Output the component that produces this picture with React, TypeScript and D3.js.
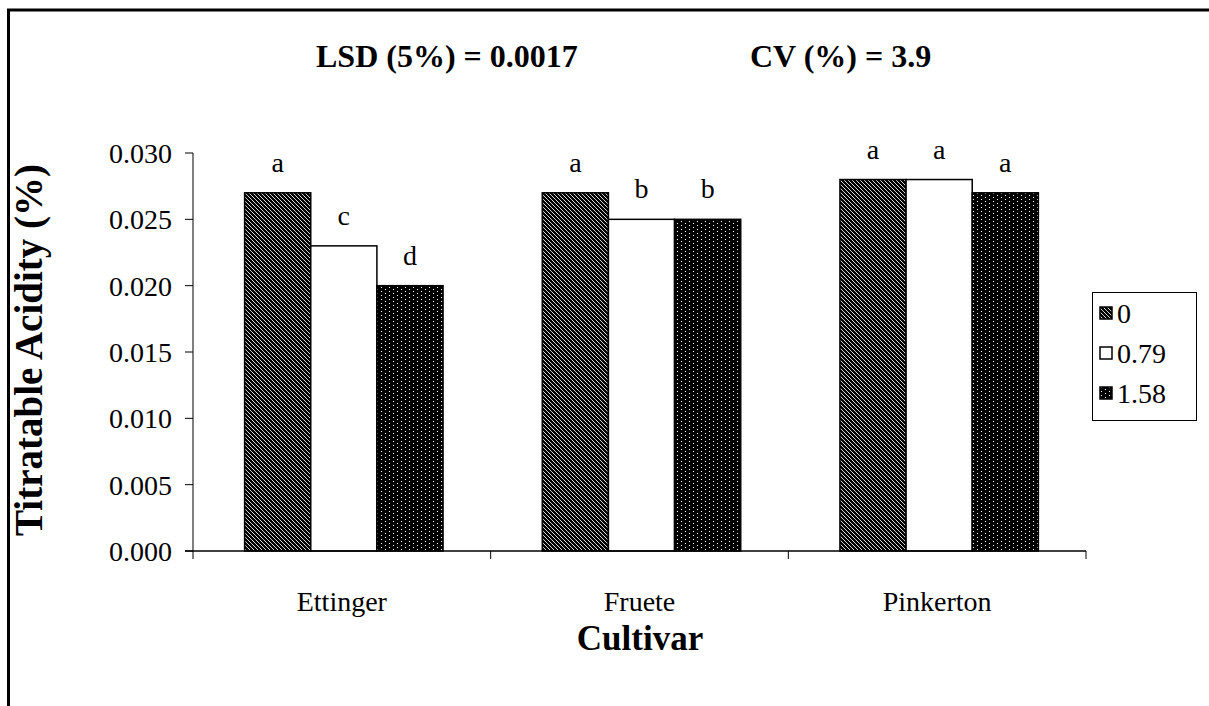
import React from "react";
import * as d3 from "d3";

const categories = ["Ettinger", "Fruete", "Pinkerton"];
const seriesNames = ["0", "0.79", "1.58"];
const values = [
  [0.027, 0.023, 0.02],
  [0.027, 0.025, 0.025],
  [0.028, 0.028, 0.027],
];
const letters = [
  ["a", "c", "d"],
  ["a", "b", "b"],
  ["a", "a", "a"],
];
const yTicks = [0, 0.005, 0.01, 0.015, 0.02, 0.025, 0.03];
const fills = ["url(#diag)", "#ffffff", "url(#dots)"];

const W = 1209;
const H = 706;
const font = "'Liberation Serif', 'Times New Roman', serif";

export default function App() {
  const x0 = 193, x1 = 1086, yTop = 153, yBot = 551;
  const xScale = d3.scaleBand().domain(categories).range([x0, x1]).paddingInner(0).paddingOuter(0);
  const yScale = d3.scaleLinear().domain([0, 0.03]).range([yBot, yTop]);
  const bw = xScale.bandwidth();
  const barW = bw / (3 + 1.5);
  const inner = d3.scaleBand().domain(seriesNames).range([bw / 2 - 1.5 * barW + 2, bw / 2 + 1.5 * barW + 2]);

  return (
    <svg width={W} height={H} style={{ position: "absolute", left: 0, top: 0 }}>
      <defs>
        <pattern id="diag" patternUnits="userSpaceOnUse" width="4" height="4">
          <rect width="4" height="4" fill="#000" />
          <path d="M-1,-1 L5,5 M-1,3 L1,5 M3,-1 L5,1" stroke="#fff" strokeWidth="1" strokeDasharray="1.2,0.3" />
        </pattern>
        <pattern id="dots" patternUnits="userSpaceOnUse" width="8" height="8">
          <rect width="8" height="8" fill="#000" />
          <rect x="1" y="1" width="1" height="1" fill="#fff" />
          <rect x="5" y="3" width="1" height="1" fill="#fff" />
          <rect x="1" y="5" width="1" height="1" fill="#fff" />
          <rect x="5" y="7" width="1" height="1" fill="#fff" />
        </pattern>
      </defs>
      <rect x={0} y={0} width={W} height={H} fill="#fff" />
      <rect x={8.5} y={10} width={W + 20} height={H + 20} fill="none" stroke="#000" strokeWidth={3} />

      <text x={316} y={67} fontFamily={font} fontWeight="bold" fontSize={32}>
        LSD (5%) = 0.0017
      </text>
      <text x={750} y={67} fontFamily={font} fontWeight="bold" fontSize={32}>
        CV (%) = 3.9
      </text>

      {/* bars */}
      {categories.map((c, ci) =>
        seriesNames.map((s, si) => {
          const v = values[ci][si];
          const bx = (xScale(c) as number) + (inner(s) as number);
          const by = yScale(v);
          return (
            <g key={c + s}>
              <rect x={bx} y={by} width={inner.bandwidth()} height={yBot - by} fill={fills[si]} stroke="#000" strokeWidth={1.5} />
              <text x={bx + inner.bandwidth() / 2} y={by - 21} textAnchor="middle" fontFamily={font} fontSize={28}>
                {letters[ci][si]}
              </text>
            </g>
          );
        })
      )}

      {/* y axis */}
      <line x1={x0} x2={x0} y1={yTop} y2={yBot} stroke="#000" strokeWidth={1} />
      {yTicks.map((t) => (
        <g key={t}>
          <line x1={x0 - 8} x2={x0} y1={yScale(t)} y2={yScale(t)} stroke="#000" />
          <text x={x0 - 21} y={yScale(t) + 10} textAnchor="end" fontFamily={font} fontSize={28}>
            {d3.format(".3f")(t)}
          </text>
        </g>
      ))}

      {/* x axis */}
      <line x1={x0 - 8} x2={x1} y1={yBot} y2={yBot} stroke="#000" strokeWidth={1.5} />
      {categories.map((c) => (
        <line key={"t" + c} x1={xScale(c) as number} x2={xScale(c) as number} y1={yBot} y2={yBot + 8} stroke="#000" />
      ))}
      <line x1={x1} x2={x1} y1={yBot} y2={yBot + 8} stroke="#000" />
      {categories.map((c) => (
        <text key={"l" + c} x={(xScale(c) as number) + bw / 2} y={611} textAnchor="middle" fontFamily={font} fontSize={28}>
          {c}
        </text>
      ))}

      <text x={640} y={650} textAnchor="middle" fontFamily={font} fontWeight="bold" fontSize={35}>
        Cultivar
      </text>
      <text transform={`translate(42,350) rotate(-90)`} textAnchor="middle" fontFamily={font} fontWeight="bold" fontSize={39}>
        Titratable Acidity (%)
      </text>

      {/* legend */}
      <rect x={1092.5} y={292.5} width={104} height={128} fill="#fff" stroke="#000" strokeWidth={1} />
      {seriesNames.map((s, i) => {
        const cy = 313 + i * 40;
        return (
          <g key={"lg" + s}>
            <rect x={1100} y={cy - 6} width={12} height={12} fill={fills[i]} stroke="#000" strokeWidth={1.5} />
            <text x={1117} y={cy + 10} fontFamily={font} fontSize={28}>
              {s}
            </text>
          </g>
        );
      })}
    </svg>
  );
}
